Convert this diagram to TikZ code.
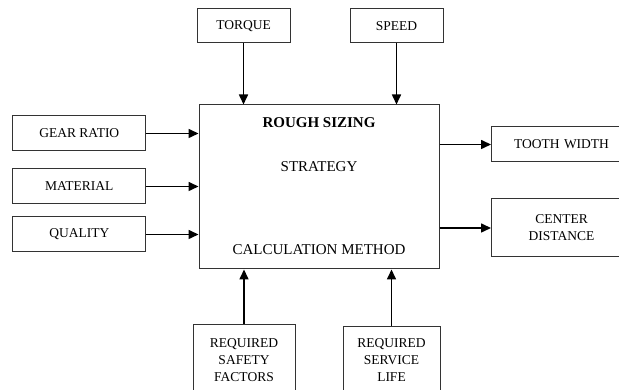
\documentclass[tikz,border=0pt]{standalone}
\usepackage{fontspec}
\setmainfont{Liberation Serif}
\usetikzlibrary{arrows.meta, positioning}

\begin{document}
\begin{tikzpicture}[x=1pt, y=1pt]
            % Block styles
            \tikzstyle{block} = [rectangle, draw=black!80, line width=1pt, text centered, inner sep=0pt, font=\fontsize{13.5}{17}\selectfont]
            \tikzstyle{small_block} = [block, minimum width=93pt, minimum height=34pt]
            \tikzstyle{input_block} = [block, minimum width=133pt, minimum height=35pt]
            \tikzstyle{output_block} = [block, minimum width=140pt, text width=128pt, align=center, anchor=west]
            \tikzstyle{req_block} = [block, minimum height=72pt, align=center, anchor=north]
            \tikzstyle{main_text} = [font=\fontsize{15}{18}\selectfont]
            \tikzstyle{arrow} = [-{Triangle[length=10pt, width=9pt]}, line width=1.6pt]
            \useasboundingbox (0,0) rectangle (619,390);
            \clip (0,0) rectangle (619,390);
            % Main block
            \node[block, minimum width=240pt, minimum height=164pt] (rough) at (319,203) {};
            \node[main_text, font=\fontsize{15}{18}\selectfont\bfseries, below=10pt of rough.north] (rough_title) {ROUGH SIZING};
            \node[main_text, below=26pt of rough_title] (strategy) {STRATEGY};
            \node[main_text, above=11pt of rough.south] (calc_method) {CALCULATION METHOD};
            % Inputs
            \node[small_block] (torque) at (243.5,364) {TORQUE};
            \node[small_block, right=59pt of torque] (speed) {SPEED};
            \node[input_block] (gear_ratio) at (79.3,256.5) {GEAR RATIO};
            \node[input_block, below=17pt of gear_ratio] (material) {MATERIAL};
            \node[input_block, below=12pt of material] (quality) {QUALITY};
            \node[req_block, minimum width=102pt] (safety) at (244,66) {REQUIRED\\SAFETY\\FACTORS};
            \node[req_block, minimum width=97pt, minimum height=68pt] (service_life) at (391.5,64) {REQUIRED\\SERVICE\\LIFE};
            % Outputs
            \node[output_block, minimum height=35pt] (tooth_width) at (491,245.5) {TOOTH WIDTH};
            \node[output_block, minimum height=58pt] (center_dist) at (491,162) {CENTER\\DISTANCE};
            % Connections
            \draw[arrow] (torque) -- (torque |- rough.north);
            \draw[arrow] (speed) -- (speed |- rough.north);
            \draw[arrow] (gear_ratio) -- (gear_ratio -| rough.west);
            \draw[arrow] (material) -- (material -| rough.west);
            \draw[arrow] (quality) -- (quality -| rough.west);
            \draw[arrow] (safety) -- (safety |- rough.south);
            \draw[arrow] (service_life) -- (service_life |- rough.south);
            \draw[arrow] (tooth_width.west -| rough.east) -- (tooth_width.west);
            \draw[arrow] (center_dist.west -| rough.east) -- (center_dist.west);
        \end{tikzpicture}
\end{document}
